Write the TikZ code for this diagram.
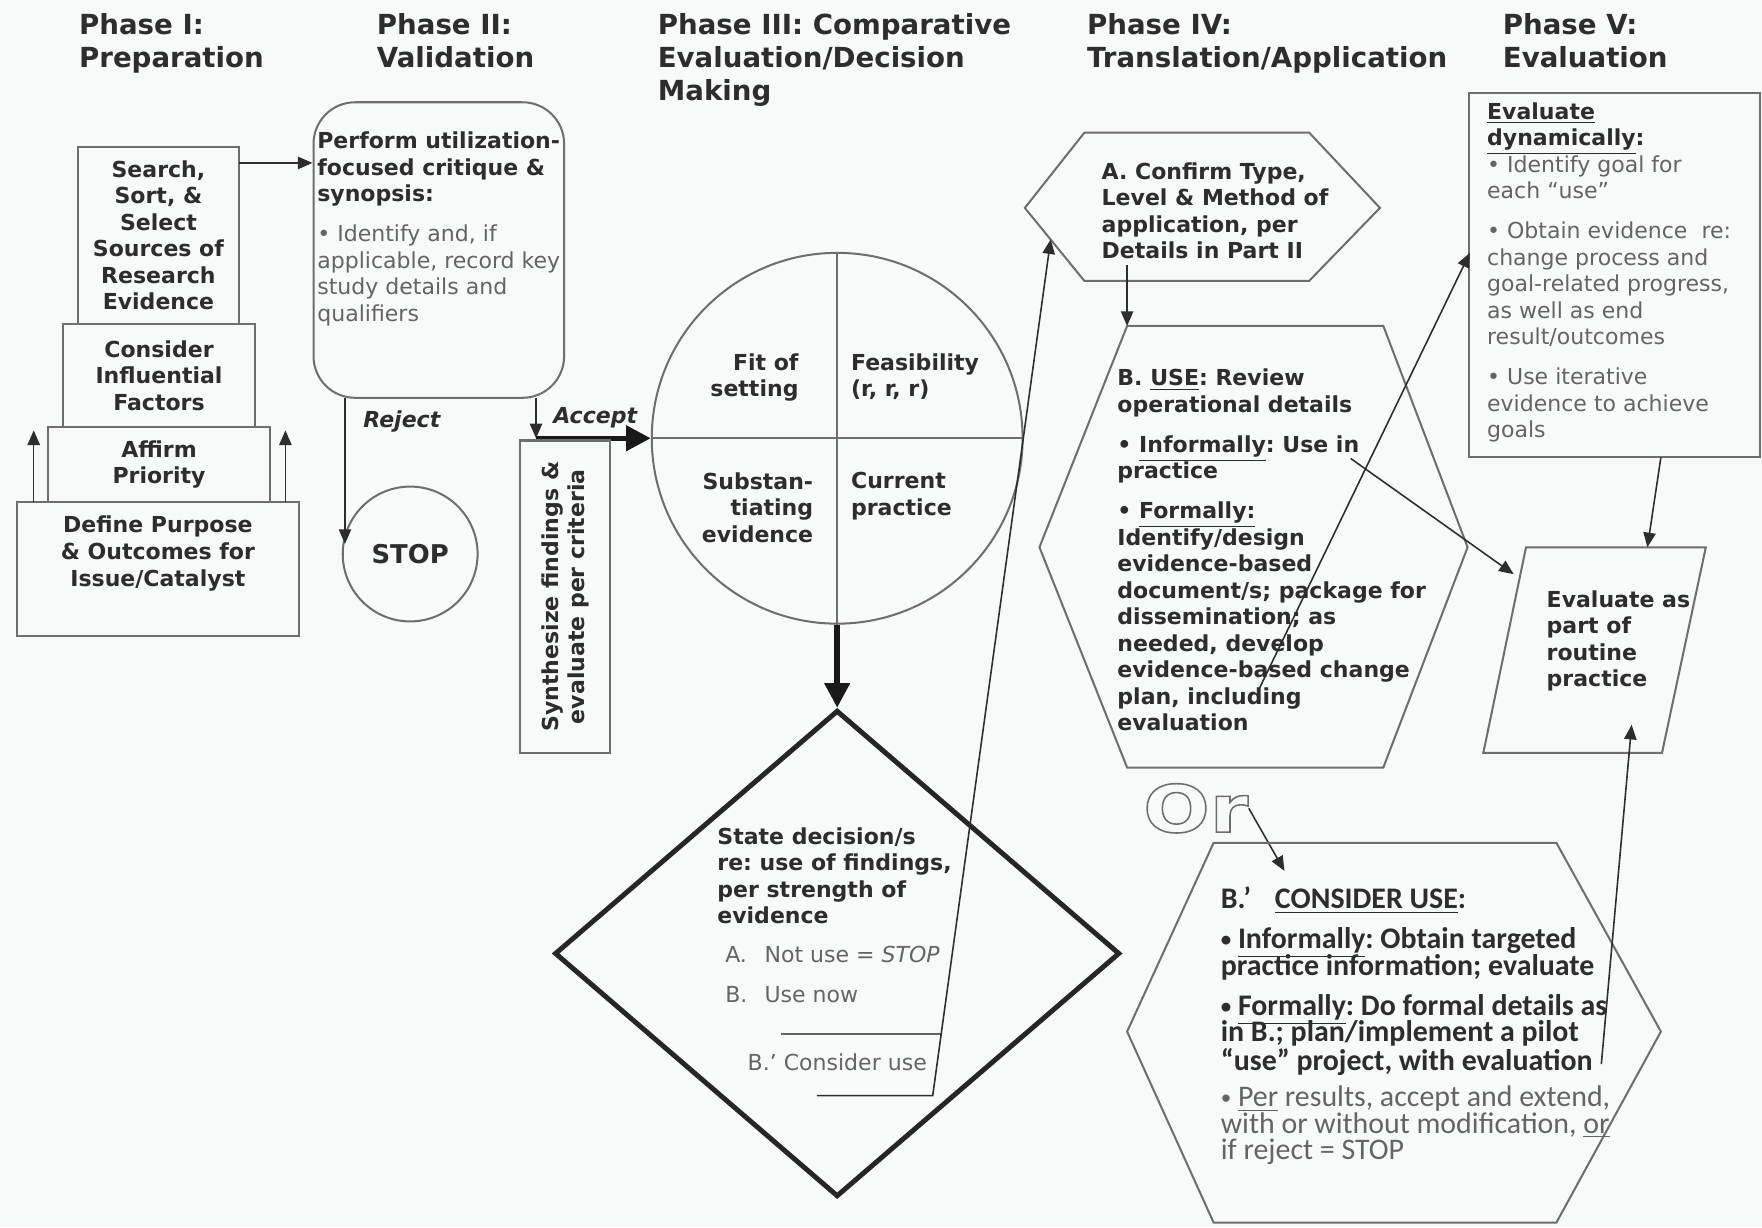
\documentclass[tikz,border=0pt]{standalone}
\usepackage{fontspec}
\setmainfont{DejaVu Sans}
\newfontfamily\carlito{Carlito}
\newfontfamily\orfont[FakeStretch=1.2]{DejaVu Sans}
\usetikzlibrary{shapes.geometric,arrows.meta}
\definecolor{pagebg}{RGB}{248,249,249}
\definecolor{edgegray}{RGB}{110,110,110}
\definecolor{inkdark}{RGB}{45,45,45}
\definecolor{inkgray}{RGB}{100,100,100}
\newcommand\hollow[1]{\special{pdf:code 1 Tr 0.7 w}#1\special{pdf:code 0 Tr}}
\newcommand\uln[1]{\smash{\underline{#1}}}
\newcommand\smallbul{\raisebox{0.15ex}{\scalebox{0.7}{•}}}
\frenchspacing

\begin{document}
\begin{tikzpicture}[x=0.5pt, y=-0.5pt,
  box/.style={draw=edgegray, line width=0.9pt},
  heavybox/.style={draw=black!85, line width=2.2pt},
  phase/.style={font=\bfseries\fontsize{12.3}{14.5}\selectfont, text=inkdark,
    align=left, anchor=north west, inner sep=0pt},
  boldtext/.style={font=\bfseries\fontsize{9.8}{11.8}\selectfont, text=inkdark, inner sep=0pt},
  graytext/.style={font=\fontsize{9.8}{11.8}\selectfont, text=inkgray, inner sep=0pt},
  calitext/.style={font=\carlito\fontsize{13.3}{11.8}\selectfont, inner sep=0pt,
    align=left, anchor=north west},
  link/.style={draw=inkdark, line width=0.7pt, -{Triangle[length=6.5pt,width=5.5pt]}},
  heavy/.style={draw=black!90, line width=2.4pt, -{Triangle[length=11pt,width=11pt]}}]

\fill[pagebg] (0,0) rectangle (1568,1092);
\useasboundingbox (0,0) rectangle (1568,1092);

\node (ph1) [phase] at (70,12)   {Phase I:\\Preparation};
\node (ph2) [phase] at (335,12)  {Phase II:\\Validation};
\node (ph3) [phase] at (585,12)  {Phase III: Comparative\\Evaluation/Decision\\Making};
\node (ph4) [phase] at (967,12)  {Phase IV:\\Translation/Application};
\node (ph5) [phase] at (1337,12) {Phase V:\\Evaluation};

% phase I
\node (search) [box, boldtext, align=center, minimum width=72pt, minimum height=78.5pt]
  at (141,209.5) {Search,\\Sort, \&\\Select\\Sources of\\Research\\Evidence};
\node (consider) [box, boldtext, align=center, minimum width=85.5pt, minimum height=46pt]
  at (141.5,334) {Consider\\Influential\\Factors};
\node (affirm) [box, boldtext, align=center, minimum width=98.5pt, minimum height=33.5pt]
  at (141.5,413.5) {Affirm\\Priority};
\node (define) [box, minimum width=125.5pt, minimum height=59.5pt] at (140.5,506.5) {};
\node (definetxt) [boldtext, align=center, anchor=north] at (140.5,459)
  {Define Purpose\\\& Outcomes for\\Issue/Catalyst};
\coordinate (upL) at (30,447);  \coordinate (upLtip) at (30,383);
\coordinate (upR) at (254,447); \coordinate (upRtip) at (254,383);
\draw[link] (upL) -- (upLtip);
\draw[link] (upR) -- (upRtip);

% phase II
\node (critique) [box, rounded corners=18.5pt, minimum width=111.5pt, minimum height=131.5pt]
  at (390.5,222.5) {};
\node (critbold) [boldtext, align=left, anchor=north west] at (282,117)
  {Perform utilization-\\focused critique \&\\synopsis:};
\node (critgray) [graytext, align=left, anchor=north west] at (282,200)
  {• Identify and, if\\applicable, record key\\study details and\\qualifiers};
\coordinate (srchout) at (213,145);
\draw[link] (srchout) -- (srchout -| critique.west);

\node (stop) [box, circle, minimum size=60pt, inner sep=0pt, text=inkdark,
  font=\bfseries\fontsize{11.5}{13}\selectfont] at (365,493) {STOP};
\coordinate (rejtop) at (307,354);
\draw[link] (rejtop) -- ([yshift=4.5pt]rejtop |- stop.west);
\node (reject) [boldtext, font=\bfseries\itshape\fontsize{9.8}{11.8}\selectfont, anchor=west]
  at (323,375) {Reject};

% phase III
\node (eval3) [box, circle, minimum size=165pt, inner sep=0pt] at (745,390) {};
\draw[box] (eval3.north) -- (eval3.south);
\draw[box] (eval3.west) -- (eval3.east);
\node (fit) [boldtext, align=right, anchor=north east] at (711,314) {Fit of\\setting};
\node (feas) [boldtext, align=left, anchor=north west] at (757,314) {Feasibility\\(r, r, r)};
\node (subst) [boldtext, align=right, anchor=north east] at (724,420) {Substan-\\tiating\\evidence};
\node (curr) [boldtext, align=left, anchor=north west] at (757,420) {Current\\practice};

\coordinate (acctop) at (477,354);
\coordinate (accbot) at (acctop |- eval3.west);
\draw[link] (acctop) -- (accbot);
\draw[heavy] (accbot) -- (eval3.west);
\node (accept) [boldtext, font=\bfseries\itshape\fontsize{9.8}{11.8}\selectfont, anchor=west]
  at (492,372) {Accept};
\node (synth) [box, boldtext, rotate=90, align=center, minimum width=139pt, minimum height=40pt]
  at (503,531) {Synthesize findings \&\\evaluate per criteria};

\node (decide) [heavybox, diamond, minimum width=251.5pt, minimum height=216.5pt, inner sep=0pt]
  at (745,848.5) {};
\draw[heavy] (eval3.south) -- (decide.north);
\node (decbold) [boldtext, align=left, anchor=north west] at (638,736)
  {State decision/s\\re: use of findings,\\per strength of\\evidence};
\node (decopts) [graytext, align=left, anchor=north west] at (645,842)
  {\makebox[17.5pt][l]{A.}Not use = \textit{STOP}\\[5.7pt]\makebox[17.5pt][l]{B.}Use now};
\node (decalt) [graytext, anchor=north west] at (665,937) {B.’ Consider use};
\coordinate (brkA) at (695,920); \coordinate (brkAend) at (838,920);
\coordinate (brkB) at (727,975); \coordinate (brkBend) at (830,975);
\draw[draw=inkgray, line width=0.7pt] (brkA) -- (brkAend);

% phase IV
\draw[box] (912,185) -- (965,118) -- (1165,118) -- (1228,185) -- (1165,250) -- (965,250) -- cycle;
\coordinate (hexAin) at (935,213);
\node (confirm) [boldtext, align=left, anchor=north west] at (980,144)
  {A. Confirm Type,\\Level \& Method of\\application, per\\Details in Part II};
\draw[link] (brkB) -- (brkBend) -- (hexAin);

\draw[box] (925,487) -- (1003,290) -- (1231,290) -- (1306,487) -- (1231,683) -- (1003,683) -- cycle;
\coordinate (hexAout) at (1003,236); \coordinate (hexBin) at (1003,290);
\draw[link] (hexAout) -- (hexBin);
\node (usetxt) [boldtext, align=left, anchor=north west] at (994,328)
  {B. \uln{USE}: Review\\operational details\\[6pt]• \uln{Informally}: Use in\\practice\\[6pt]%
   • \uln{Formally:}\\Identify/design\\evidence-based\\document/s; package for\\dissemination; as\\%
   needed, develop\\evidence-based change\\plan, including\\evaluation};

\node (ornode) [anchor=north west, inner sep=0pt, text=edgegray,
  font=\orfont\bfseries\fontsize{29}{29}\selectfont] at (1017,697) {\hollow{Or}};
\coordinate (consin) at (1143,775);
\draw[link] (ornode.east) -- (consin);

\draw[box] (1003,918) -- (1080,750) -- (1385,750) -- (1478,918) -- (1385,1088) -- (1080,1088) -- cycle;
\node (constxt) [calitext, font=\carlito\bfseries\fontsize{13.3}{11.8}\selectfont, text=inkdark]
  at (1086,789) {B.’\hspace{0.8em}\uln{CONSIDER USE}:\\[6pt]\smallbul{} \uln{Informally}: Obtain targeted\\%
  practice information; evaluate\\[6pt]\smallbul{} \uln{Formally}: Do formal details as\\%
  in B.; plan/implement a pilot\\“use” project, with evaluation};
\node (consgray) [calitext, text=inkgray] at (1086,966)
  {\smallbul{} \uln{Per} results, accept and extend,\\with or without modification, \uln{or}\\if reject = STOP};

% phase V
\node (evalbox) [box, minimum width=129.5pt, minimum height=162pt] at (1436.5,245) {};
\node (evalhead) [boldtext, align=left, anchor=north west] at (1323,91)
  {\vphantom{Eh}\uln{Evaluate}\\\uln{dynamically}:};
\node (evalgray) [graytext, align=left, anchor=north west] at (1323,138)
  {• Identify goal for\\each “use”\\[6pt]• Obtain evidence\ \ re:\\change process and\\%
   goal-related progress,\\as well as end\\result/outcomes\\[6pt]• Use iterative\\%
   evidence to achieve\\goals};

\draw[box] (1358,487) -- (1518,487) -- (1479,670) -- (1320,670) -- cycle;
\node (routtxt) [boldtext, align=left, anchor=north west] at (1376,525)
  {Evaluate as\\part of\\routine\\practice};

\coordinate (evalout) at (1478,407); \coordinate (routtop) at (1466,487);
\draw[link] (evalout) -- (routtop);
\coordinate (usedes) at (1121,612); \coordinate (evalin) at (1308,225);
\draw[link] (usedes) -- (evalin);
\coordinate (useinf) at (1202,408); \coordinate (routin) at (1347,511);
\draw[link] (useinf) -- (routin);
\coordinate (consout) at (1425,947); \coordinate (routup) at (1452,645);
\draw[link] (consout) -- (routup);
\end{tikzpicture}
\end{document}
